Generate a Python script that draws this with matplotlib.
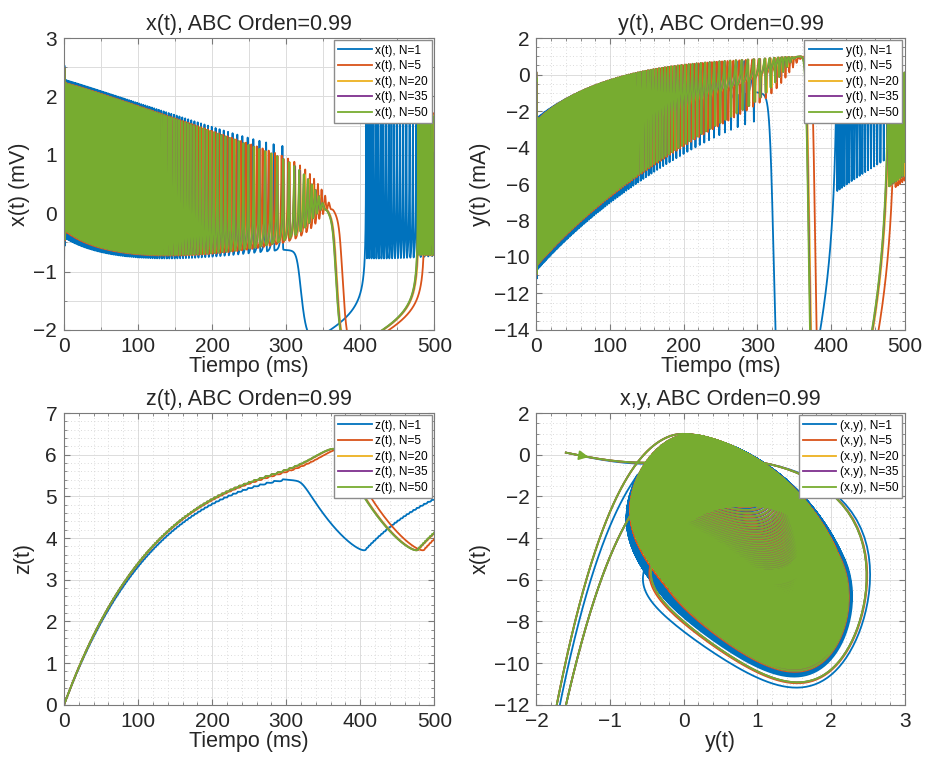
"""
Hindmarsh-Rose neuron, ABC order 0.99 -- x(t), y(t), z(t) and the (x,y) phase plane
for several discretisation levels N.  Saves out.png
"""

import numpy as np
import matplotlib
matplotlib.use("Agg")
import matplotlib.pyplot as plt
from matplotlib.ticker import MultipleLocator


# ── CONFIG ────────────────────────────────────────────────────────────────────
ORDER    = 0.99
N_VALUES = [1, 5, 20, 35, 50]
COLORS   = ["#0072BD", "#D95319", "#EDB120", "#7E2F8E", "#77AC30"]

T_END   = 500.0          # ms
BASE_DT = 0.0125         # output step; solver step = BASE_DT / N

X0, Y0, Z0 = -1.6, 0.1, 0.0

# Hindmarsh-Rose parameters (fast part runs TS times per ms)
A, B, C, D = 1.0, 2.6, 1.0, 5.0
S, XR      = 4.0, -1.8875
R          = 0.0045
I_EXT      = 5.1
TS         = 1.4

TEXT  = "#262626"
SPINE = "#7a7a7a"
GRID  = "#dcdcdc"
# ──────────────────────────────────────────────────────────────────────────────


def simulate(n):
    """Explicit Euler with n sub-steps per output step."""
    dt = BASE_DT / n
    n_out = int(round(T_END / BASE_DT))
    x, y, z = X0, Y0, Z0
    xs, ys, zs = [x], [y], [z]
    for _ in range(n_out):
        for _ in range(n):
            dx = TS * (y - A * x * x * x + B * x * x - z + I_EXT)
            dy = TS * (C - D * x * x - y)
            dz = R * (S * (x - XR) - z)
            x += dt * dx
            y += dt * dy
            z += dt * dz
        xs.append(x); ys.append(y); zs.append(z)
    t = np.arange(n_out + 1) * BASE_DT
    return t, np.array(xs), np.array(ys), np.array(zs)


def style_axes(ax, solid_minor=False):
    ax.set_axisbelow(True)
    ax.tick_params(which="both", direction="in", top=True, right=True,
                   colors=SPINE, labelcolor=TEXT, labelsize=15)
    ax.tick_params(which="major", length=4, pad=5)
    ax.tick_params(which="minor", length=2)
    for sp in ax.spines.values():
        sp.set_color(SPINE)
        sp.set_linewidth(0.8)
    ax.grid(True, which="major", color=GRID, lw=0.7, ls="-")
    if solid_minor:
        ax.grid(True, which="minor", color=GRID, lw=0.7, ls="-")
    else:
        ax.grid(True, which="minor", color="#cfcfcf", lw=0.6, ls=(0, (1, 3)))


def add_legend(ax):
    ax.legend(loc="upper right", fontsize=8.6, handlelength=2.8, handletextpad=0.3,
              labelspacing=0.3, borderpad=0.35, borderaxespad=0.2,
              fancybox=False, framealpha=1, edgecolor="#8c8c8c")


def main():
    plt.rcParams["font.family"] = ["Liberation Sans", "DejaVu Sans"]

    runs = {n: simulate(n) for n in N_VALUES}

    fig = plt.figure(figsize=(9.28, 7.62), dpi=100)
    ax_x = fig.add_axes([0.069, 0.567, 0.399, 0.383])
    ax_y = fig.add_axes([0.578, 0.567, 0.397, 0.383])
    ax_z = fig.add_axes([0.069, 0.075, 0.399, 0.383])
    ax_p = fig.add_axes([0.578, 0.075, 0.397, 0.383])

    title = f"ABC Orden={ORDER}"

    for n, col in zip(N_VALUES, COLORS):
        t, x, y, z = runs[n]
        ax_x.plot(t, x, color=col, lw=1.3, label=f"x(t), N={n}")
        ax_y.plot(t, y, color=col, lw=1.3, label=f"y(t), N={n}")
        ax_z.plot(t, z, color=col, lw=1.3, label=f"z(t), N={n}")
        ax_p.plot(x, y, color=col, lw=1.3, label=f"(x,y), N={n}")

    # arrow on the first stretch of the last trajectory
    t, x, y, z = runs[N_VALUES[-1]]
    xa = np.linspace(x[0], x[2], 20)
    ya = np.interp(xa, x[:3], y[:3])
    ax_p.annotate("", xy=(xa[15], ya[15]), xytext=(xa[8], ya[8]),
                  arrowprops=dict(arrowstyle="-|>", color=COLORS[-1],
                                  lw=1.3, mutation_scale=14))

    # x(t)
    ax_x.set_xlim(0, T_END); ax_x.set_ylim(-2, 3)
    ax_x.xaxis.set_major_locator(MultipleLocator(100))
    ax_x.xaxis.set_minor_locator(MultipleLocator(50))
    ax_x.yaxis.set_major_locator(MultipleLocator(1))
    ax_x.yaxis.set_minor_locator(MultipleLocator(0.5))
    style_axes(ax_x, solid_minor=True)
    ax_x.set_title(f"x(t), {title}", fontsize=15.5, color=TEXT, pad=6)
    ax_x.set_xlabel("Tiempo (ms)", fontsize=15.5, color=TEXT, labelpad=0)
    ax_x.set_ylabel("x(t) (mV)", fontsize=15.5, color=TEXT, labelpad=2)

    # y(t)
    ax_y.set_xlim(0, T_END); ax_y.set_ylim(-14, 2)
    ax_y.xaxis.set_major_locator(MultipleLocator(100))
    ax_y.xaxis.set_minor_locator(MultipleLocator(20))
    ax_y.yaxis.set_major_locator(MultipleLocator(2))
    ax_y.yaxis.set_minor_locator(MultipleLocator(0.5))
    style_axes(ax_y)
    ax_y.set_title(f"y(t), {title}", fontsize=15.5, color=TEXT, pad=6)
    ax_y.set_xlabel("Tiempo (ms)", fontsize=15.5, color=TEXT, labelpad=0)
    ax_y.set_ylabel("y(t) (mA)", fontsize=15.5, color=TEXT, labelpad=2)

    # z(t)
    ax_z.set_xlim(0, T_END); ax_z.set_ylim(0, 7)
    ax_z.xaxis.set_major_locator(MultipleLocator(100))
    ax_z.xaxis.set_minor_locator(MultipleLocator(20))
    ax_z.yaxis.set_major_locator(MultipleLocator(1))
    ax_z.yaxis.set_minor_locator(MultipleLocator(0.2))
    style_axes(ax_z)
    ax_z.set_title(f"z(t), {title}", fontsize=15.5, color=TEXT, pad=6)
    ax_z.set_xlabel("Tiempo (ms)", fontsize=15.5, color=TEXT, labelpad=0)
    ax_z.set_ylabel("z(t)", fontsize=15.5, color=TEXT, labelpad=8)

    # phase plane
    ax_p.set_xlim(-2, 3); ax_p.set_ylim(-12, 2)
    ax_p.xaxis.set_major_locator(MultipleLocator(1))
    ax_p.xaxis.set_minor_locator(MultipleLocator(0.2))
    ax_p.yaxis.set_major_locator(MultipleLocator(2))
    ax_p.yaxis.set_minor_locator(MultipleLocator(0.5))
    style_axes(ax_p)
    ax_p.set_title(f"x,y, {title}", fontsize=15.5, color=TEXT, pad=6)
    ax_p.set_xlabel("y(t)", fontsize=15.5, color=TEXT, labelpad=0)
    ax_p.set_ylabel("x(t)", fontsize=15.5, color=TEXT, labelpad=2)

    for ax in (ax_x, ax_y, ax_z, ax_p):
        add_legend(ax)

    fig.savefig("out.png", dpi=100)
    plt.close(fig)


if __name__ == "__main__":
    main()
